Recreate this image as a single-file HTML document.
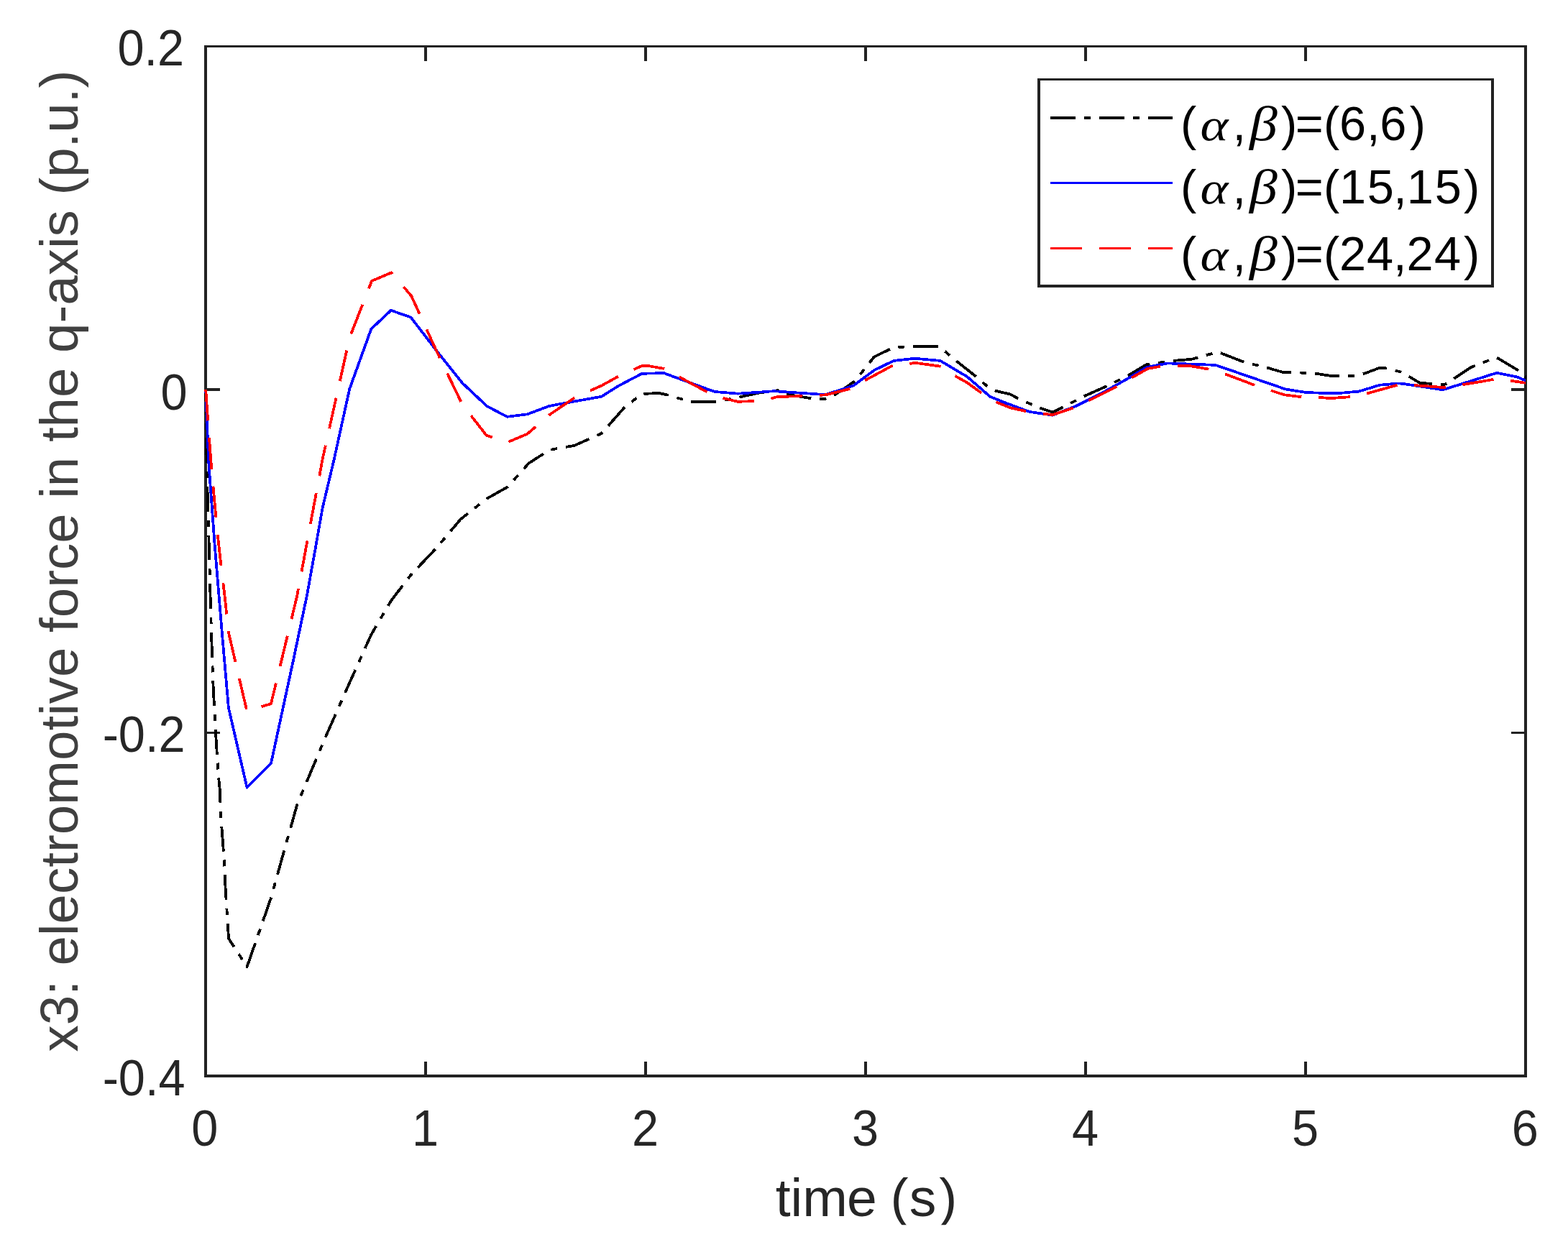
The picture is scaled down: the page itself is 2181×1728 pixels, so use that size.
<!DOCTYPE html>
<html lang="en"><head><meta charset="utf-8"><title>x3: electromotive force in the q-axis</title>
<style>
html,body{margin:0;padding:0;background:#fff;}
body{width:2181px;height:1728px;overflow:hidden;}
svg{display:block;}
.tk{font-family:"Liberation Sans",sans-serif;font-size:66.67px;fill:#262626;}
.lb{font-family:"Liberation Sans",sans-serif;font-size:73.33px;fill:#404040;}
.lg{font-family:"Liberation Sans",sans-serif;font-size:66.67px;fill:#000;}
.gk{font-family:"Liberation Serif",serif;font-style:italic;font-size:72px;fill:#000;}
</style></head><body>
<svg width="2181" height="1728" viewBox="0 0 2181 1728">
<rect x="0" y="0" width="2181" height="1728" fill="#fff"/>
<g fill="#222222" shape-rendering="crispEdges">
<rect x="284" y="63" width="4" height="1436"/>
<rect x="2120" y="63" width="4" height="1436"/>
<rect x="284" y="63" width="1840" height="3"/>
<rect x="284" y="1495" width="1840" height="4"/>
<rect x="590" y="1477" width="4" height="20"/>
<rect x="590" y="64" width="4" height="20.5"/>
<rect x="896" y="1477" width="4" height="20"/>
<rect x="896" y="64" width="4" height="20.5"/>
<rect x="1202" y="1477" width="4" height="20"/>
<rect x="1202" y="64" width="4" height="20.5"/>
<rect x="1508" y="1477" width="4" height="20"/>
<rect x="1508" y="64" width="4" height="20.5"/>
<rect x="1814" y="1477" width="4" height="20"/>
<rect x="1814" y="64" width="4" height="20.5"/>
<rect x="286" y="540" width="20" height="4"/>
<rect x="2102" y="540" width="20" height="4"/>
<rect x="286" y="1018" width="20" height="3"/>
<rect x="2102" y="1018" width="20" height="3"/>
</g>
<clipPath id="ax"><rect x="284" y="64.5" width="1839" height="1432.5"/></clipPath>
<g clip-path="url(#ax)" fill="none" stroke-linejoin="round" stroke-linecap="butt" shape-rendering="crispEdges">
<polyline id="c6" points="286.2,541.8 287.5,640.0 289.0,700.0 290.5,750.0 292.3,820.0 294.0,880.0 296.2,947.0 299.0,1002.0 301.8,1048.6 304.2,1082.3 305.9,1100.0 307.0,1132.8 309.5,1165.6 312.0,1200.0 313.6,1236.0 315.7,1269.0 318.0,1305.7 343.6,1345.0 377.0,1249.2 395.2,1183.6 413.5,1118.9 452.8,1025.4 486.2,950.0 516.3,883.0 543.8,836.0 571.4,800.0 606.5,763.0 640.9,722.2 676.7,694.0 706.4,677.3 735.6,644.4 764.4,626.0 798.9,619.9 836.8,603.0 868.5,566.9 892.9,548.0 916.5,547.0 929.7,549.7 961.0,559.2 996.5,558.8 1028.5,552.5 1057.0,546.3 1082.0,543.2 1096.0,549.0 1128.7,554.3 1147.8,555.0 1160.4,549.9 1188.9,530.4 1216.0,496.4 1238.3,485.6 1250.1,482.9 1278.6,481.7 1305.8,481.7 1330.8,502.6 1357.9,524.2 1377.4,541.0 1384.4,543.7 1405.2,548.5 1416.7,554.8 1446.6,567.7 1464.0,573.6 1478.6,566.6 1507.8,551.3 1539.1,537.4 1569.8,522.1 1594.1,507.5 1599.7,506.5 1632.4,501.9 1657.4,499.8 1686.3,491.8 1693.0,489.8 1698.8,491.5 1730.1,503.7 1762.8,511.7 1784.4,517.9 1796.9,517.9 1830.3,519.7 1852.5,523.2 1885.9,523.1 1897.0,520.0 1919.3,511.7 1929.8,512.6 1949.9,517.9 1960.7,524.4 1974.7,532.8 1992.5,534.0 2007.0,535.2 2012.7,533.9 2023.3,526.1 2045.1,511.5 2071.9,500.9 2081.0,497.0 2112.1,515.5 2124.0,526.2" stroke="#000" stroke-width="3.8" stroke-dasharray="34.82 11.9 9 11.9"/>
<polyline id="c15" points="286.2,541.8 290.0,640.0 298.8,760.0 308.8,880.0 317.9,984.7 343.5,1095.7 377.0,1062.0 407.7,920.0 426.9,828.7 438.6,763.6 448.6,706.8 464.5,640.0 486.2,541.2 516.3,457.7 543.8,431.8 571.4,441.5 606.5,487.0 642.9,532.7 677.3,565.1 705.4,579.8 733.5,576.3 764.4,564.8 800.0,558.3 836.8,551.7 860.0,537.0 892.9,519.8 923.5,519.1 993.7,544.9 1026.4,547.7 1076.5,544.2 1129.0,547.8 1147.8,549.2 1186.8,536.7 1216.0,515.1 1243.1,501.9 1272.4,498.7 1307.8,501.9 1345.4,524.2 1377.4,552.0 1400.0,561.1 1432.0,572.9 1464.0,577.7 1496.0,565.2 1533.6,546.4 1567.0,527.7 1594.8,511.0 1624.0,505.4 1690.8,507.9 1788.5,541.6 1816.4,546.0 1841.4,546.9 1863.7,546.9 1890.0,544.6 1919.3,535.7 1944.4,533.5 1950.0,533.7 2007.0,542.3 2082.0,518.8 2109.9,524.4 2122.0,529.4" stroke="#0000ff" stroke-width="3.75"/>
<polyline id="c24" points="286.2,541.8 290.0,597.0 294.0,649.0 298.5,699.0 303.2,748.0 308.0,791.0 313.0,833.0 317.9,880.0 343.5,989.6 377.0,979.1 413.0,830.0 449.0,637.0 486.2,470.0 517.1,390.9 544.6,379.2 572.2,411.8 606.5,487.0 642.9,562.5 676.6,605.8 705.4,615.6 733.5,603.7 764.4,577.0 798.9,553.5 836.8,536.5 859.5,524.0 893.6,508.7 899.8,508.7 923.5,512.9 982.6,544.9 1007.0,554.3 1026.4,558.8 1048.7,558.1 1073.8,554.3 1080.7,552.1 1115.5,551.1 1140.2,549.9 1149.0,549.2 1182.6,540.9 1203.5,529.0 1241.0,508.9 1266.0,506.1 1272.4,504.7 1308.5,509.8 1329.4,523.5 1345.4,532.5 1365.6,547.1 1386.4,559.7 1405.2,567.3 1427.1,572.2 1451.5,575.7 1464.0,577.1 1493.2,567.3 1515.5,556.9 1553.0,538.1 1575.3,524.9 1596.2,513.0 1615.0,509.6 1639.3,508.9 1656.0,509.2 1681.8,513.7 1705.0,520.7 1745.4,536.0 1769.0,543.7 1785.7,549.2 1810.8,552.4 1835.8,553.0 1851.1,554.1 1879.0,552.1 1902.6,547.1 1943.7,535.7 1968.0,536.1 2011.5,539.3 2036.1,535.0 2078.6,527.7 2103.2,530.0 2122.0,532.8" stroke="#ff0000" stroke-width="3.75" stroke-dasharray="43.7 23.9"/>
</g>
<text class="tk" transform="translate(284.9,1593.8) scale(1,1.05)" text-anchor="middle">0</text>
<text class="tk" transform="translate(591.5,1593.8) scale(1,1.05)" text-anchor="middle">1</text>
<text class="tk" transform="translate(897.5,1593.8) scale(1,1.05)" text-anchor="middle">2</text>
<text class="tk" transform="translate(1203.5,1593.8) scale(1,1.05)" text-anchor="middle">3</text>
<text class="tk" transform="translate(1509.5,1593.8) scale(1,1.05)" text-anchor="middle">4</text>
<text class="tk" transform="translate(1815.5,1593.8) scale(1,1.05)" text-anchor="middle">5</text>
<text class="tk" transform="translate(2121.3,1593.8) scale(1,1.05)" text-anchor="middle">6</text>
<text class="tk" transform="translate(256.1,91.1) scale(1,1.05)" text-anchor="end">0.2</text>
<text class="tk" transform="translate(260.5,569.7) scale(1,1.05)" text-anchor="end">0</text>
<text class="tk" transform="translate(257.5,1046.1) scale(1,1.05)" text-anchor="end">-0.2</text>
<text class="tk" transform="translate(257.5,1523.6) scale(1,1.05)" text-anchor="end">-0.4</text>
<clipPath id="xl"><rect x="1000" y="1600" width="400" height="104.2"/></clipPath>
<g clip-path="url(#xl)"><text class="lb" style="fill:#262626" transform="translate(1077.9,1691.7) scale(1.025,1)" x="0.8 21.1 37.4 97.75 138.5 156.7 182.3 222.9">time (s)</text></g>
<text class="lb" transform="translate(108.2,780.6) rotate(-90) scale(1.0155,1)" text-anchor="middle">x3: electromotive force in the q-axis (p.u.)</text>
<g fill="#222222" shape-rendering="crispEdges">
<rect x="1443" y="109" width="635" height="291"/>
<rect x="1447" y="112" width="627" height="284" fill="#fff"/>
</g>
<g fill="none" stroke-linecap="butt" shape-rendering="crispEdges">
<line x1="1461" y1="164" x2="1631" y2="164" stroke="#000" stroke-width="4" stroke-dasharray="35 12 9 12"/>
<line x1="1461" y1="254.5" x2="1631" y2="254.5" stroke="#0000ff" stroke-width="3"/>
<line x1="1461" y1="345.5" x2="1631" y2="345.5" stroke="#ff0000" stroke-width="3" stroke-dasharray="44 24"/>
</g>
<text class="lg" x="1642" y="195.1">(</text>
<text class="gk" transform="translate(1669.4,195.1) scale(1.03,0.88)">α</text>
<text class="lg" x="1714.5" y="195.1">,</text>
<text class="gk" transform="translate(1738,195.1) scale(1.08,0.94)">β</text>
<text class="lg" x="1781.9 1801.7 1841 1863 1900.9 1919.2 1960.7" y="195.1">)=(6,6)</text>
<text class="lg" x="1642" y="282.9">(</text>
<text class="gk" transform="translate(1669.4,282.9) scale(1.03,0.88)">α</text>
<text class="lg" x="1714.5" y="282.9">,</text>
<text class="gk" transform="translate(1738,282.9) scale(1.08,0.94)">β</text>
<text class="lg" x="1781.9 1801.7 1841 1863 1901.8 1938.2 1956.7 1995.8 2035.9" y="282.9">)=(15,15)</text>
<text class="lg" x="1642" y="376.0">(</text>
<text class="gk" transform="translate(1669.4,376.0) scale(1.03,0.88)">α</text>
<text class="lg" x="1714.5" y="376.0">,</text>
<text class="gk" transform="translate(1738,376.0) scale(1.08,0.94)">β</text>
<text class="lg" x="1781.9 1801.7 1841 1863 1900.9 1938.0 1956.5 1995.0 2035.9" y="376.0">)=(24,24)</text>
</svg></body></html>
